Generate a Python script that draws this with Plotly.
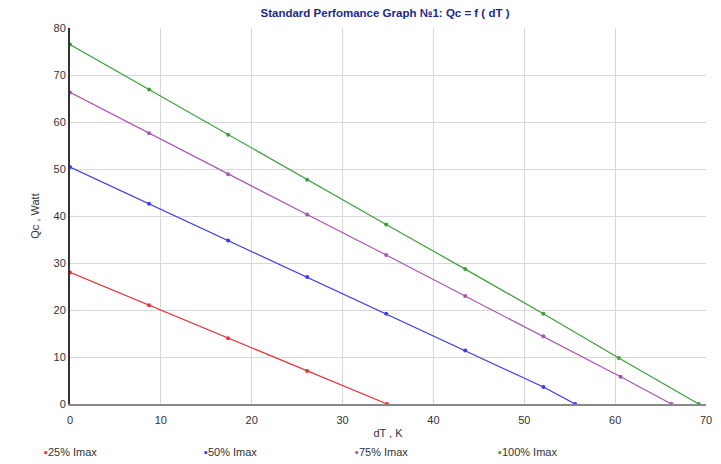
import plotly.graph_objects as go

dT_25 = [0, 8.7, 17.4, 26.1, 34.9]
qc_25 = [28.0, 21.0, 14.0, 7.0, 0.0]

dT_50 = [0, 8.7, 17.4, 26.1, 34.8, 43.5, 52.1, 55.6]
qc_50 = [50.4, 42.6, 34.8, 27.0, 19.2, 11.4, 3.6, 0.0]

dT_75 = [0, 8.7, 17.4, 26.1, 34.8, 43.5, 52.1, 60.6, 66.2]
qc_75 = [66.3, 57.6, 48.9, 40.3, 31.7, 23.0, 14.4, 5.8, 0.0]

dT_100 = [0, 8.7, 17.4, 26.1, 34.8, 43.5, 52.1, 60.4, 69.2]
qc_100 = [76.5, 66.9, 57.3, 47.7, 38.2, 28.7, 19.2, 9.8, 0.0]

names = ["25% Imax", "50% Imax", "75% Imax", "100% Imax"]
colors = ["#e8333a", "#3b3be8", "#a855b0", "#3e9e3e"]
xs = [dT_25, dT_50, dT_75, dT_100]
ys = [qc_25, qc_50, qc_75, qc_100]

x_ticks = [0, 10, 20, 30, 40, 50, 60, 70]
y_ticks = [0, 10, 20, 30, 40, 50, 60, 70, 80]

W, H = 721, 464
ML, MR, MT, MB = 70, 15, 28, 60

fig = go.Figure()
for x, y, n, c in zip(xs, ys, names, colors):
    fig.add_trace(go.Scatter(x=x, y=y, name=n, mode="lines+markers",
                             line=dict(color=c, width=1.2),
                             marker=dict(color=c, size=4),
                             showlegend=False))

# legend drawn as text entries below the plot
legend_px = [42, 202, 353, 496]
for px, n, c in zip(legend_px, names, colors):
    fig.add_annotation(
        xref="paper", yref="paper",
        x=(px - ML) / (W - ML - MR), y=-(452 - (H - MB)) / (H - MT - MB),
        xanchor="left", yanchor="middle", showarrow=False,
        text=f"<span style='color:{c}'>▪</span>{n}",
        font=dict(size=11, color="#333333"))

fig.update_layout(
    width=W, height=H,
    margin=dict(l=ML, r=MR, t=MT, b=MB, autoexpand=False),
    paper_bgcolor="white", plot_bgcolor="white",
    font=dict(family="Liberation Sans, Arial, sans-serif", size=11, color="#333333"),
    title=dict(text="<b>Standard Perfomance Graph №1: Qc = f ( dT )</b>",
               x=(385) / W, xanchor="center", y=1 - 13 / H, yanchor="middle",
               xref="paper" if False else "container", yref="container",
               font=dict(size=11.5, color="#1c2a8c")),
    showlegend=False,
)
fig.update_xaxes(range=[0, 70], tickvals=x_ticks, showgrid=True,
                 gridcolor="#d8d8d8", gridwidth=1, zeroline=False,
                 showline=True, linecolor="#888888", linewidth=2,
                 ticks="", ticklabelstandoff=5,
                 title=dict(text="dT , K", standoff=4, font=dict(size=11)))
fig.update_yaxes(range=[0, 80], tickvals=y_ticks, showgrid=True,
                 gridcolor="#d8d8d8", gridwidth=1, zeroline=False,
                 showline=True, linecolor="#333333", linewidth=2,
                 ticks="",
                 title=dict(text="Qc , Watt", standoff=12, font=dict(size=11)))

fig.write_html("out.html", config={"displayModeBar": False},
               post_script="document.body.style.margin='0';")
